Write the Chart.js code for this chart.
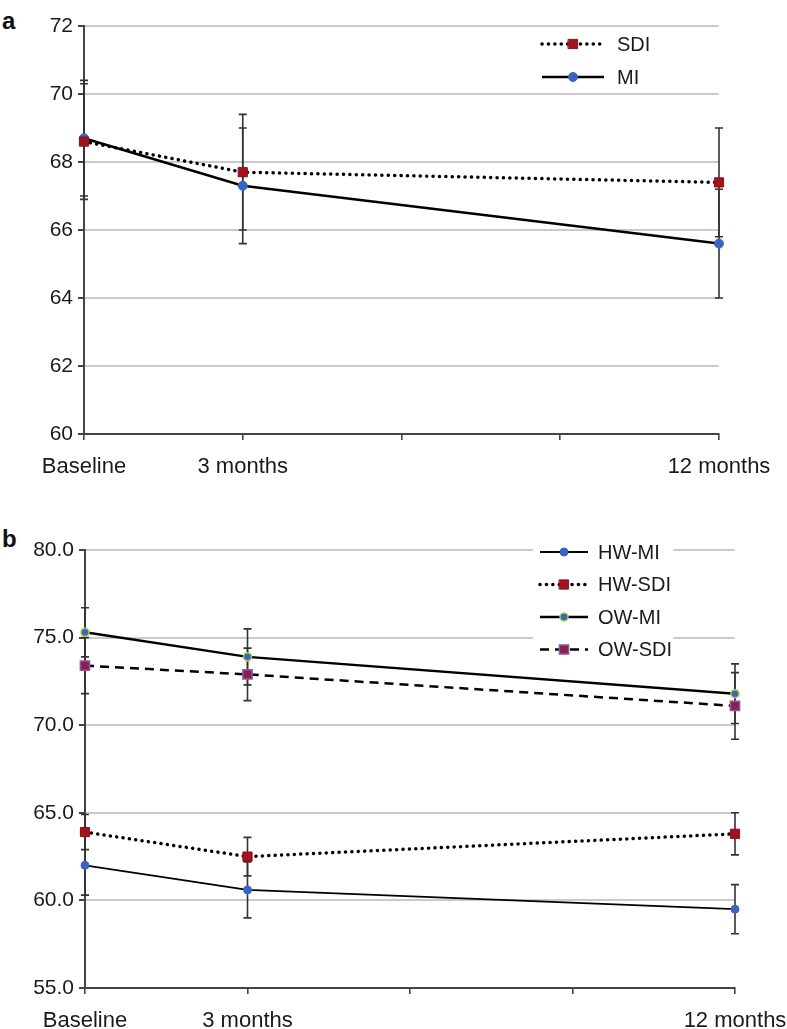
<!DOCTYPE html>
<html>
<head>
<meta charset="utf-8">
<script src="https://cdn.jsdelivr.net/npm/chart.js@4.4.1/dist/chart.umd.min.js"></script>
<style>
    body { margin: 0; background: #fff; width: 787px; height: 1029px; overflow: hidden; position: relative; font-family: "Liberation Sans", Arial, sans-serif; }
    canvas { position: absolute; left: 0; }
    #chartA { top: 0; }
    #chartB { top: 490px; }
    .panel { position: absolute; left: 2px; font-weight: bold; font-size: 24px; line-height: 28px; color: #111; }
</style>
</head>
<body>
<div class="panel" style="top:7px">a</div>
<div class="panel" style="top:525px">b</div>
<canvas id="chartA" width="787" height="490"></canvas>
<canvas id="chartB" width="787" height="539"></canvas>
<script>
// time points (months) and their labels
const months = [0, 3, 12];
const monthLabels = ['Baseline', '3 months', '12 months'];

// panel a
const sdiA = [68.6, 67.7, 67.4];
const sdiAErr = [1.7, 1.7, 1.6];
const miA = [68.7, 67.3, 65.6];
const miAErr = [1.7, 1.7, 1.6];

// panel b
const hwMI = [62.0, 60.6, 59.5];
const hwMIErr = [1.7, 1.6, 1.4];
const hwSDI = [63.9, 62.5, 63.8];
const hwSDIErr = [1.0, 1.1, 1.2];
const owMI = [75.3, 73.9, 71.8];
const owMIErr = [1.4, 1.6, 1.7];
const owSDI = [73.4, 72.9, 71.1];
const owSDIErr = [1.6, 1.5, 1.9];

Chart.defaults.font.family = '"Liberation Sans", Arial, sans-serif';
Chart.defaults.color = '#1a1a1a';

function toPoints(values) {
    return months.map((m, i) => ({ x: m, y: values[i] }));
}

// vertical error bars, drawn under the lines
const errorBars = {
    id: 'errorBars',
    beforeDatasetsDraw(chart) {
        const ctx = chart.ctx;
        const xs = chart.scales.x, ys = chart.scales.y;
        ctx.save();
        ctx.strokeStyle = '#333';
        ctx.lineWidth = 1.6;
        chart.data.datasets.forEach(ds => {
            ds.data.forEach((pt, i) => {
                const e = ds.errors[i];
                const px = xs.getPixelForValue(pt.x);
                const top = ys.getPixelForValue(pt.y + e);
                const bot = ys.getPixelForValue(pt.y - e);
                ctx.beginPath();
                ctx.moveTo(px, top); ctx.lineTo(px, bot);
                ctx.moveTo(px - 4, top); ctx.lineTo(px + 4, top);
                ctx.moveTo(px - 4, bot); ctx.lineTo(px + 4, bot);
                ctx.stroke();
            });
        });
        ctx.restore();
    }
};

function drawMarker(ctx, ds, x, y) {
    const r = ds.pointRadius;
    ctx.save();
    ctx.setLineDash([]);
    ctx.fillStyle = ds.pointBackgroundColor;
    ctx.strokeStyle = ds.pointBorderColor;
    ctx.lineWidth = ds.pointBorderWidth;
    ctx.beginPath();
    if (ds.pointStyle === 'circle') {
        ctx.arc(x, y, r, 0, Math.PI * 2);
    } else {
        const s = r * Math.SQRT1_2;
        ctx.rect(x - s, y - s, 2 * s, 2 * s);
    }
    ctx.fill();
    if (ds.pointBorderWidth) ctx.stroke();
    ctx.restore();
}

// legend with a line sample and the marker on it
const lineLegend = {
    id: 'lineLegend',
    afterDraw(chart, args, opts) {
        const ctx = chart.ctx;
        ctx.save();
        if (opts.box) {
            ctx.fillStyle = '#fff';
            ctx.fillRect(opts.box[0], opts.box[1], opts.box[2], opts.box[3]);
        }
        chart.data.datasets.forEach((ds, i) => {
            const y = opts.y + i * opts.gap;
            ctx.strokeStyle = ds.borderColor;
            ctx.lineWidth = ds.borderWidth;
            ctx.lineCap = ds.borderCapStyle || 'butt';
            ctx.setLineDash(ds.borderDash || []);
            ctx.beginPath();
            ctx.moveTo(opts.x, y);
            ctx.lineTo(opts.x + opts.len, y);
            ctx.stroke();
            drawMarker(ctx, ds, opts.x + opts.len / 2, y);
            ctx.fillStyle = '#1a1a1a';
            ctx.font = '20px "Liberation Sans", Arial, sans-serif';
            ctx.textBaseline = 'middle';
            ctx.fillText(ds.label, opts.x + opts.len + opts.textGap, y + 1);
        });
        ctx.restore();
    }
};

function xScale(height) {
    return {
        type: 'linear',
        min: 0,
        max: 12,
        afterFit: scale => {
            scale.height = height;
            scale.paddingLeft = 0;
            scale.paddingRight = 0;
        },
        grid: { drawOnChartArea: false, tickLength: 6, tickColor: '#444', lineWidth: 1.6 },
        border: { color: '#444', width: 2 },
        ticks: {
            stepSize: 3,
            autoSkip: false,
            maxRotation: 0,
            padding: 14,
            font: { size: 22 },
            callback: v => {
                const i = months.indexOf(v);
                return i >= 0 ? monthLabels[i] : '';
            }
        }
    };
}

function yScale(min, max, step, width, digits) {
    return {
        min: min,
        max: max,
        afterFit: scale => { scale.width = width; },
        grid: { color: '#cacaca', lineWidth: 2, tickLength: 6, tickColor: '#444' },
        border: { color: '#444', width: 2 },
        ticks: {
            stepSize: step,
            padding: 5,
            font: { size: 21 },
            callback: v => v.toFixed(digits)
        }
    };
}

const sdiStyle = {
    borderColor: '#000', borderWidth: 3.5, borderDash: [0.1, 6.3], borderCapStyle: 'round',
    pointStyle: 'rect', pointRadius: 6.5, pointBackgroundColor: '#a3121f',
    pointBorderColor: '#8a0f1a', pointBorderWidth: 1
};
const miStyle = {
    borderColor: '#000', borderWidth: 2.5,
    pointStyle: 'circle', pointRadius: 4.5, pointBackgroundColor: '#3a63c8',
    pointBorderColor: '#3a63c8', pointBorderWidth: 1
};

new Chart(document.getElementById('chartA'), {
    type: 'line',
    data: {
        datasets: [
            Object.assign({ label: 'SDI', data: toPoints(sdiA), errors: sdiAErr, clip: false }, sdiStyle),
            Object.assign({ label: 'MI', data: toPoints(miA), errors: miAErr, clip: false }, miStyle)
        ]
    },
    options: {
        responsive: false,
        animation: false,
        devicePixelRatio: 1,
        layout: { padding: { top: 26, right: 68, left: 0, bottom: 0 } },
        scales: { x: xScale(56), y: yScale(60, 72, 2, 84, 0) },
        plugins: {
            legend: { display: false },
            tooltip: { enabled: false },
            lineLegend: { x: 542, y: 44, gap: 33, len: 62, textGap: 13 }
        }
    },
    plugins: [errorBars, lineLegend]
});

new Chart(document.getElementById('chartB'), {
    type: 'line',
    data: {
        datasets: [
            Object.assign({ label: 'HW-MI', data: toPoints(hwMI), errors: hwMIErr, clip: false }, miStyle,
                { borderWidth: 1.8, pointRadius: 4 }),
            Object.assign({ label: 'HW-SDI', data: toPoints(hwSDI), errors: hwSDIErr, clip: false }, sdiStyle),
            Object.assign({ label: 'OW-MI', data: toPoints(owMI), errors: owMIErr, clip: false }, miStyle,
                { pointRadius: 4, pointBorderColor: '#a8d040', pointBorderWidth: 1.5 }),
            {
                label: 'OW-SDI', data: toPoints(owSDI), errors: owSDIErr, clip: false,
                borderColor: '#000', borderWidth: 2.5, borderDash: [9, 6],
                pointStyle: 'rect', pointRadius: 6.5, pointBackgroundColor: '#8e1e50',
                pointBorderColor: '#8a5aa0', pointBorderWidth: 1.5
            }
        ]
    },
    options: {
        responsive: false,
        animation: false,
        devicePixelRatio: 1,
        layout: { padding: { top: 60, right: 52, left: 0, bottom: 0 } },
        scales: { x: xScale(41), y: yScale(55, 80, 5, 85, 1) },
        plugins: {
            legend: { display: false },
            tooltip: { enabled: false },
            lineLegend: { x: 540, y: 62, gap: 32.5, len: 48, textGap: 10, box: [533, 48, 140, 126] }
        }
    },
    plugins: [errorBars, lineLegend]
});
</script>
</body>
</html>
